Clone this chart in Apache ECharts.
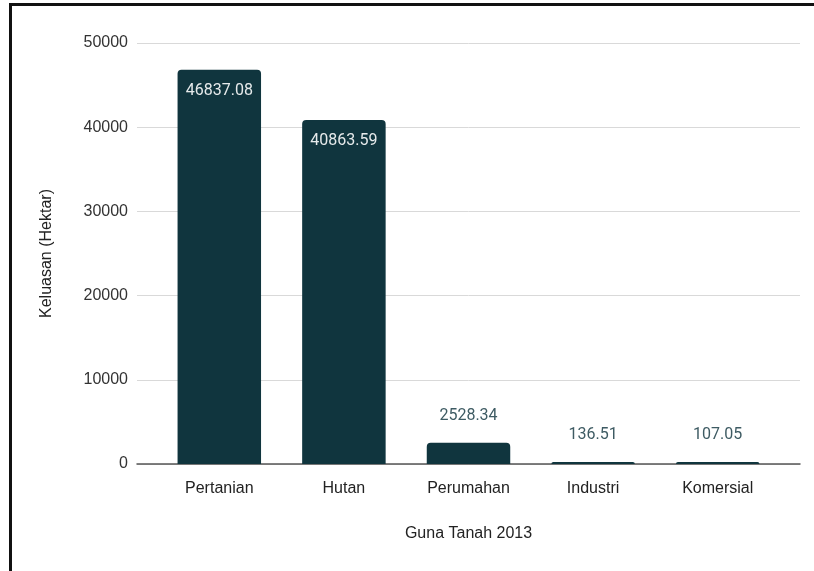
<!DOCTYPE html>
<html>
<head>
<meta charset="utf-8">
<script src="https://cdn.jsdelivr.net/npm/echarts@6/dist/echarts.min.js"></script>
<style>
html,body{margin:0;padding:0;background:#fff;}
#c{width:814px;height:571px;}
</style>
</head>
<body>
<div id="c"></div>
<script>
const categories = ["Pertanian", "Hutan", "Perumahan", "Industri", "Komersial"];
const values = [46837.08, 40863.59, 2528.34, 136.51, 107.05];
const yTicks = [0, 10000, 20000, 30000, 40000, 50000];
const xTitle = "Guna Tanah 2013";
const yTitle = "Keluasan (Hektar)";

const yMin = yTicks[0], yMax = yTicks[yTicks.length - 1], yStep = yTicks[1] - yTicks[0];
const barColor = "#10353e";
const font = "Liberation Sans, Arial, sans-serif";
const vmax = Math.max(...values);

const data = values.map(v => {
  const inside = v > vmax * 0.2;
  return {
    value: v,
    label: inside
      ? { position: "insideTop", distance: 13, color: "#e6eaeb" }
      : { position: "top", distance: 19, color: "#3e5b63" }
  };
});

const chart = echarts.init(document.getElementById("c"), null, { renderer: "canvas" });
chart.setOption({
  animation: false,
  backgroundColor: "#ffffff",
  graphic: [{
    type: "rect",
    shape: { x: 10.5, y: 4.5, width: 1000, height: 1000 },
    style: { fill: "none", stroke: "#111", lineWidth: 3 },
    silent: true
  }],
  grid: [
    { left: 137, right: 14, top: 43, bottom: 107 },
    { left: 157, right: 34, top: 43, bottom: 107 }
  ],
  xAxis: [
    {
      gridIndex: 0, type: "value", min: 0, max: 1,
      axisLine: { show: true, lineStyle: { color: "#555", width: 1.5 } },
      axisTick: { show: false }, axisLabel: { show: false }, splitLine: { show: false }
    },
    {
      gridIndex: 1, type: "category", data: categories,
      axisLine: { show: false }, axisTick: { show: false },
      axisLabel: { margin: 17, fontSize: 16, color: "#222", fontFamily: font },
      name: xTitle, nameLocation: "middle", nameGap: 62,
      nameTextStyle: { fontSize: 16, color: "#222", fontFamily: font }
    }
  ],
  yAxis: [
    {
      gridIndex: 0, type: "value", min: yMin, max: yMax, interval: yStep,
      axisLine: { show: false }, axisTick: { show: false },
      axisLabel: { margin: 9, fontSize: 16, color: "#333", fontFamily: font,
                   formatter: v => String(v) },
      splitLine: { show: true, lineStyle: { color: "#d9d9d9", width: 1 } },
      name: yTitle, nameLocation: "middle", nameGap: 82, nameRotate: 90,
      nameTextStyle: { fontSize: 16, color: "#222", fontFamily: font }
    },
    {
      gridIndex: 1, type: "value", min: yMin, max: yMax, interval: yStep,
      show: false
    }
  ],
  series: [{
    type: "bar",
    xAxisIndex: 1, yAxisIndex: 1,
    data: data,
    barWidth: "67%",
    barMinHeight: 2,
    itemStyle: { color: barColor, borderRadius: [4, 4, 0, 0] },
    label: {
      show: true, fontSize: 16, fontFamily: "Roboto, sans-serif",
      formatter: p => p.value.toFixed(2)
    }
  }]
});
</script>
</body>
</html>
